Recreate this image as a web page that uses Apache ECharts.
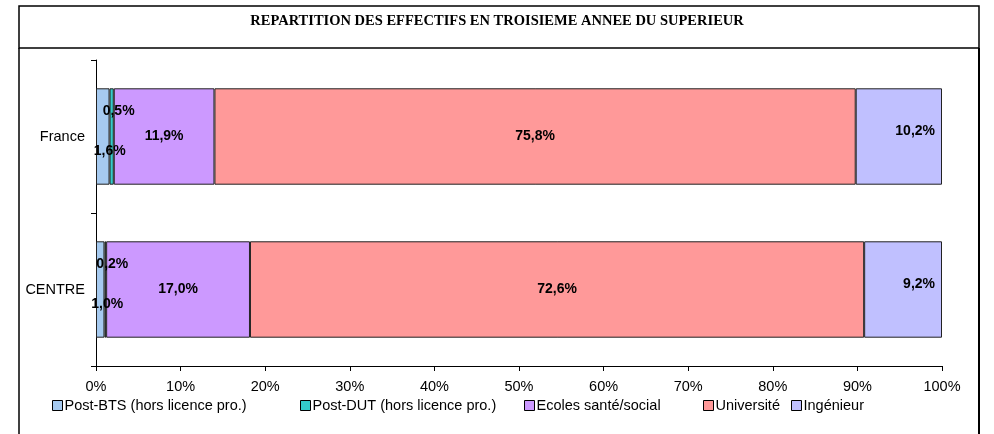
<!DOCTYPE html>
<html>
<head>
<meta charset="utf-8">
<script src="https://cdn.jsdelivr.net/npm/echarts@6/dist/echarts.min.js"></script>
<style>html,body{margin:0;padding:0;background:#fff}#c{width:994px;height:434px}</style>
</head>
<body>
<div id="c"></div>
<script>
const categories = ['CENTRE', 'France'];
const seriesNames = ['Post-BTS (hors licence pro.)', 'Post-DUT (hors licence pro.)', 'Ecoles santé/social', 'Université', 'Ingénieur'];
const postBTS = [1.0, 1.6];
const postDUT = [0.2, 0.5];
const ecoles = [17.0, 11.9];
const universite = [72.6, 75.8];
const ingenieur = [9.2, 10.2];
const xTicks = ['0%', '10%', '20%', '30%', '40%', '50%', '60%', '70%', '80%', '90%', '100%'];
const titleText = 'REPARTITION DES EFFECTIFS EN TROISIEME ANNEE DU SUPERIEUR';

const values = [postBTS, postDUT, ecoles, universite, ingenieur];
const colors = ['#A6CAF0', '#33CCCC', '#CC99FF', '#FF9999', '#C0C0FF'];
const labelPos = [
  {position: 'inside', offset: [7, 15]},
  {position: 'inside', offset: [7, -25]},
  {position: 'inside', offset: [0, 0]},
  {position: 'inside', offset: [0, 0]},
  {position: 'insideRight', offset: [0, -5]}
];
const legendLeft = [52, 300, 524, 703, 791];
const font = '"Liberation Sans", Arial, sans-serif';

const fmt = v => v.toFixed(1).replace('.', ',') + '%';

const series = seriesNames.map((name, i) => ({
  name: name,
  type: 'bar',
  stack: 'total',
  barCategoryGap: '37%',
  data: values[i],
  itemStyle: {color: colors[i], borderColor: '#222', borderWidth: 1},
  label: {
    show: true,
    position: labelPos[i].position,
    offset: labelPos[i].offset,
    formatter: p => fmt(p.value),
    color: '#000',
    fontWeight: 'bold',
    fontSize: 14,
    fontFamily: font,
    distance: 7
  },
  emphasis: {disabled: true},
  animation: false
}));

const legends = seriesNames.map((name, i) => ({
  data: [name],
  left: legendLeft[i],
  top: 398,
  padding: 0,
  itemWidth: 10,
  itemHeight: 10,
  itemGap: 0,
  icon: 'rect',
  itemStyle: {borderColor: '#000', borderWidth: 1},
  textStyle: {color: '#000', fontSize: 14.5, fontFamily: font, padding: [0, 0, 0, -3]},
  selectedMode: false
}));

const chart = echarts.init(document.getElementById('c'));
chart.setOption({
  animation: false,
  backgroundColor: '#fff',
  title: {
    text: titleText,
    left: 'center',
    top: 9,
    textStyle: {fontFamily: '"Liberation Serif", "Times New Roman", serif', fontWeight: 'bold', fontSize: 14.5, color: '#000'}
  },
  graphic: [
    {type: 'rect', shape: {x: 19, y: 6, width: 960, height: 42}, style: {fill: 'none', stroke: '#000', lineWidth: 1.5}, silent: true},
    {type: 'polyline', shape: {points: [[19, 48], [19, 440]]}, style: {stroke: '#000', lineWidth: 1.5}, silent: true},
    {type: 'polyline', shape: {points: [[979, 48], [979, 440]]}, style: {stroke: '#000', lineWidth: 2}, silent: true}
  ],
  legend: legends,
  grid: {left: 96, right: 52, top: 60, bottom: 68, containLabel: false},
  xAxis: {
    type: 'value',
    min: 0,
    max: 100,
    interval: 10,
    axisLine: {show: true, lineStyle: {color: '#000', width: 1}},
    axisTick: {show: true, length: 5, lineStyle: {color: '#000'}},
    splitLine: {show: false},
    axisLabel: {
      formatter: v => xTicks[Math.round(v / 10)],
      color: '#000', fontSize: 14.5, fontFamily: font, margin: 13
    }
  },
  yAxis: {
    type: 'category',
    data: categories,
    axisLine: {show: true, lineStyle: {color: '#000', width: 1}},
    axisTick: {show: true, length: 5, lineStyle: {color: '#000'}},
    axisLabel: {color: '#000', fontSize: 14.5, fontFamily: font, margin: 11}
  },
  series: series
});
</script>
</body>
</html>
